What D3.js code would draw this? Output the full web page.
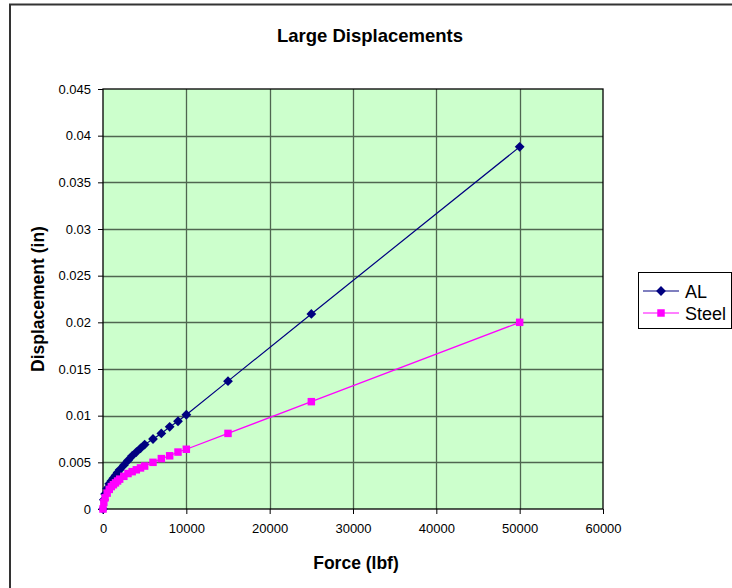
<!DOCTYPE html>
<html>
<head>
<meta charset="utf-8">
<script src="https://cdn.jsdelivr.net/npm/d3@7"></script>
<style>
  html, body { margin: 0; padding: 0; background: #fff; }
  svg { display: block; font-family: "Liberation Sans", Arial, sans-serif; }
</style>
</head>
<body>
<svg id="chart" width="732" height="588"></svg>
<script>
// Force (lbf) and displacement (in) for each material
const alForce   = [0, 100, 250, 500, 750, 1000, 1250, 1500, 1750, 2000, 2500, 3000, 3500, 4000, 4500, 5000, 6000, 7000, 8000, 9000, 10000, 15000, 25000, 50000];
const alDisp    = [0, 0.0010, 0.0016, 0.0022, 0.0027, 0.0030, 0.0033, 0.0036, 0.0039, 0.0042, 0.0047, 0.0052, 0.0057, 0.0061, 0.0065, 0.0069, 0.0075, 0.0081, 0.0088, 0.0094, 0.0101, 0.0137, 0.0209, 0.0388];
const steelForce = [0, 100, 250, 500, 750, 1000, 1250, 1500, 1750, 2000, 2500, 3000, 3500, 4000, 4500, 5000, 6000, 7000, 8000, 9000, 10000, 15000, 25000, 50000];
const steelDisp  = [0, 0.0007, 0.0012, 0.0017, 0.0021, 0.0024, 0.0026, 0.0028, 0.0030, 0.0032, 0.0035, 0.0038, 0.0040, 0.0042, 0.0044, 0.0046, 0.0050, 0.0054, 0.0057, 0.0061, 0.0064, 0.0081, 0.0115, 0.0200];

const xTicks = [0, 10000, 20000, 30000, 40000, 50000, 60000];
const yTicks = [0, 0.005, 0.01, 0.015, 0.02, 0.025, 0.03, 0.035, 0.04, 0.045];

const seriesNames  = ["AL", "Steel"];
const seriesColors = ["#000080", "#FF00FF"];

const svg = d3.select("#chart");

// outer chart frame
svg.append("rect")
  .attr("x", 10).attr("y", 4.5)
  .attr("width", 740).attr("height", 600)
  .attr("fill", "#fff").attr("stroke", "#333").attr("stroke-width", 2);

const plot = { left: 103, top: 89, right: 603, bottom: 509 };

const x = d3.scaleLinear().domain([0, 60000]).range([plot.left, plot.right]);
const y = d3.scaleLinear().domain([0, 0.045]).range([plot.bottom, plot.top]);

// plot area background
svg.append("rect")
  .attr("x", plot.left).attr("y", plot.top)
  .attr("width", plot.right - plot.left).attr("height", plot.bottom - plot.top)
  .attr("fill", "#CCFFCC");

// grid
const grid = svg.append("g").attr("stroke", "#4f6650").attr("stroke-width", 1.3);
grid.selectAll(".gx").data(xTicks.slice(1, -1)).join("line")
  .attr("x1", d => Math.round(x(d)) + 0.5).attr("x2", d => Math.round(x(d)) + 0.5)
  .attr("y1", plot.top).attr("y2", plot.bottom);
grid.selectAll(".gy").data(yTicks.slice(1, -1)).join("line")
  .attr("y1", d => Math.round(y(d)) + 0.5).attr("y2", d => Math.round(y(d)) + 0.5)
  .attr("x1", plot.left).attr("x2", plot.right);

// plot border
svg.append("rect")
  .attr("x", plot.left).attr("y", plot.top)
  .attr("width", plot.right - plot.left).attr("height", plot.bottom - plot.top)
  .attr("fill", "none").attr("stroke", "#000").attr("stroke-width", 1.3);

// axes
const xAxis = svg.append("g")
  .attr("transform", `translate(0,${plot.bottom})`)
  .call(d3.axisBottom(x).tickValues(xTicks).tickFormat(d3.format("d")).tickSize(5).tickPadding(10));
const yAxis = svg.append("g")
  .attr("transform", `translate(${plot.left},0)`)
  .call(d3.axisLeft(y).tickValues(yTicks).tickFormat(d => d === 0 ? "0" : String(+d.toFixed(3))).tickSize(5).tickPadding(7));

[xAxis, yAxis].forEach(g => {
  g.select(".domain").remove();
  g.selectAll(".tick line").attr("stroke", "#000");
  g.selectAll(".tick text").attr("font-size", 13).attr("fill", "#000")
    .attr("font-family", "'Liberation Sans', Arial, sans-serif");
});

// titles
svg.append("text").attr("x", 370).attr("y", 42)
  .attr("text-anchor", "middle").attr("font-size", 18.5).attr("font-weight", "bold")
  .text("Large Displacements");
svg.append("text").attr("x", 356).attr("y", 569)
  .attr("text-anchor", "middle").attr("font-size", 17.5).attr("font-weight", "bold")
  .text("Force (lbf)");
svg.append("text")
  .attr("transform", `translate(44,${(plot.top + plot.bottom) / 2}) rotate(-90)`)
  .attr("text-anchor", "middle").attr("font-size", 17.5).attr("font-weight", "bold")
  .text("Displacement (in)");

// marker shapes: a square and a square turned on its corner
const squareMarker  = d3.symbol().type(d3.symbolSquare).size(56);
const diamondMarker = d3.symbol().type(d3.symbolSquare).size(48);

const series = [
  { name: seriesNames[0], color: seriesColors[0], pts: alForce.map((f, i) => [f, alDisp[i]]), marker: diamondMarker, rot: 45 },
  { name: seriesNames[1], color: seriesColors[1], pts: steelForce.map((f, i) => [f, steelDisp[i]]), marker: squareMarker, rot: 0 }
];

const line = d3.line().x(d => x(d[0])).y(d => y(d[1]));

series.forEach(s => {
  svg.append("path").datum(s.pts)
    .attr("d", line).attr("fill", "none")
    .attr("stroke", s.color).attr("stroke-width", 1.2);
  svg.append("g").selectAll("path").data(s.pts).join("path")
    .attr("transform", d => `translate(${x(d[0])},${y(d[1])}) rotate(${s.rot})`)
    .attr("d", s.marker())
    .attr("fill", s.color);
});

// legend
const legend = svg.append("g");
legend.append("rect")
  .attr("x", 638.5).attr("y", 272.5).attr("width", 93).attr("height", 56)
  .attr("fill", "#fff").attr("stroke", "#000").attr("stroke-width", 1);
series.forEach((s, i) => {
  const ly = 291 + i * 22;
  legend.append("line").attr("x1", 643).attr("x2", 679).attr("y1", ly).attr("y2", ly)
    .attr("stroke", s.color).attr("stroke-width", 1.2);
  legend.append("path").attr("transform", `translate(661,${ly}) rotate(${s.rot})`)
    .attr("d", s.marker()).attr("fill", s.color);
  legend.append("text").attr("x", 685).attr("y", ly + 6.5)
    .attr("font-size", 18).text(s.name);
});
</script>
</body>
</html>
